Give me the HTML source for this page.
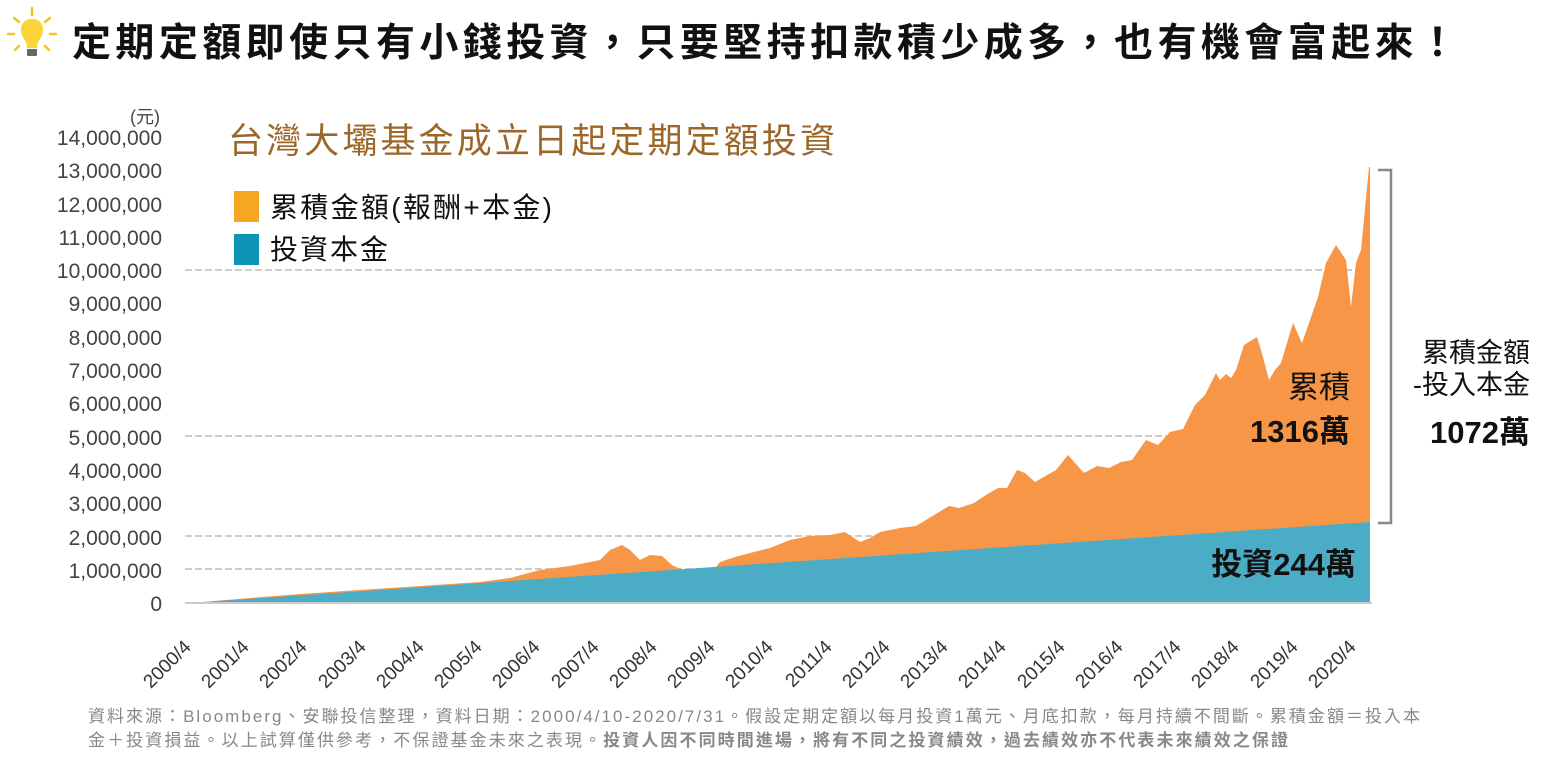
<!DOCTYPE html>
<html><head><meta charset="utf-8"><style>
body{margin:0;width:1543px;height:759px;background:#fff;overflow:hidden;font-family:"Liberation Sans","Noto Sans CJK TC",sans-serif}
</style></head><body>
<svg width="1543" height="759" viewBox="0 0 1543 759" xmlns="http://www.w3.org/2000/svg" font-family="Liberation Sans, Noto Sans CJK TC, sans-serif">
<g stroke="#F5C518" stroke-width="2.5" stroke-linecap="round">
<line x1="32" y1="8" x2="32" y2="15"/><line x1="14" y1="18" x2="19" y2="22"/><line x1="50" y1="18" x2="45" y2="22"/>
<line x1="8" y1="34" x2="14" y2="34"/><line x1="50" y1="34" x2="56" y2="34"/><line x1="15" y1="50" x2="19" y2="46"/><line x1="49" y1="50" x2="45" y2="46"/>
</g>
<path d="M32 19 C22 19 19 28 22 35 C24 40 27 42 27 48 L37 48 C37 42 40 40 42 35 C45 28 42 19 32 19Z" fill="#FBD437"/>
<rect x="27" y="49" width="10" height="7" rx="1" fill="#666"/>
<text x="72" y="56" font-size="39" font-weight="bold" fill="#111" letter-spacing="3" textLength="1388" lengthAdjust="spacing">定期定額即使只有小錢投資，只要堅持扣款積少成多，也有機會富起來！</text>

<text x="228" y="153" font-size="35" fill="#9B6628" textLength="607" lengthAdjust="spacing">台灣大壩基金成立日起定期定額投資</text>
<rect x="234" y="191" width="25" height="31" fill="#F5A623"/>
<text x="270" y="217" font-size="28" fill="#111" textLength="282" lengthAdjust="spacing">累積金額(報酬+本金)</text>
<rect x="234" y="234" width="25" height="31" fill="#0E94B4"/>
<text x="270" y="259" font-size="28" fill="#111" textLength="118" lengthAdjust="spacing">投資本金</text>

<g font-size="21" fill="#444" text-anchor="end">
<text x="160" y="123" font-size="18">(元)</text>
<text x="162" y="145">14,000,000</text><text x="162" y="178">13,000,000</text><text x="162" y="212">12,000,000</text>
<text x="162" y="245">11,000,000</text><text x="162" y="278">10,000,000</text><text x="162" y="311">9,000,000</text>
<text x="162" y="345">8,000,000</text><text x="162" y="378">7,000,000</text><text x="162" y="411">6,000,000</text>
<text x="162" y="445">5,000,000</text><text x="162" y="478">4,000,000</text><text x="162" y="511">3,000,000</text>
<text x="162" y="545">2,000,000</text><text x="162" y="578">1,000,000</text><text x="162" y="611">0</text>
</g>
<g stroke="#ccc" stroke-width="2" stroke-dasharray="7,3">
<line x1="185" y1="270" x2="1370" y2="270"/><line x1="185" y1="436" x2="1370" y2="436"/>
<line x1="185" y1="536" x2="1370" y2="536"/><line x1="185" y1="569" x2="1370" y2="569"/>
</g>
<path fill="#F79646" d="M190,603 L250,598 L300,594 L360,590 L420,586 L480,582 L510,578 L540,570 L570,566 L600,560 L610,550 L622,545 L630,550 L640,560 L650,555 L662,556 L672,565 L690,574 L700,577 L712,572 L720,562 L735,557 L750,553 L770,548 L790,540 L810,536 L830,535 L845,532 L860,542 L870,538 L880,532 L900,528 L916,526 L949,506 L959,508 L974,503 L986,495 L998,488 L1007,488 L1017,470 L1025,473 L1035,482 L1056,470 L1068,455 L1084,473 L1097,466 L1109,468 L1121,462 L1132,460 L1146,440 L1158,445 L1170,432 L1183,429 L1195,405 L1205,395 L1216,373 L1220,380 L1226,374 L1231,378 L1236,370 L1244,345 L1257,337 L1263,357 L1269,380 L1275,370 L1281,363 L1293,323 L1302,343 L1310,320 L1318,297 L1326,263 L1336,245 L1346,260 L1351,307 L1356,263 L1361,250 L1369,167 L1370,167 L1370,603 Z"/>
<path fill="#4BACC6" d="M190,603 L1370,522 L1370,603 Z"/>
<line x1="185" y1="603" x2="1372" y2="603" stroke="#ccc" stroke-width="2"/>
<g font-size="19" fill="#333" text-anchor="end">
<text transform="translate(192,648) rotate(-45)">2000/4</text><text transform="translate(250,648) rotate(-45)">2001/4</text>
<text transform="translate(308,648) rotate(-45)">2002/4</text><text transform="translate(367,648) rotate(-45)">2003/4</text>
<text transform="translate(425,648) rotate(-45)">2004/4</text><text transform="translate(483,648) rotate(-45)">2005/4</text>
<text transform="translate(541,648) rotate(-45)">2006/4</text><text transform="translate(600,648) rotate(-45)">2007/4</text>
<text transform="translate(658,648) rotate(-45)">2008/4</text><text transform="translate(716,648) rotate(-45)">2009/4</text>
<text transform="translate(774,648) rotate(-45)">2010/4</text><text transform="translate(833,648) rotate(-45)">2011/4</text>
<text transform="translate(891,648) rotate(-45)">2012/4</text><text transform="translate(949,648) rotate(-45)">2013/4</text>
<text transform="translate(1007,648) rotate(-45)">2014/4</text><text transform="translate(1066,648) rotate(-45)">2015/4</text>
<text transform="translate(1124,648) rotate(-45)">2016/4</text><text transform="translate(1182,648) rotate(-45)">2017/4</text>
<text transform="translate(1240,648) rotate(-45)">2018/4</text><text transform="translate(1299,648) rotate(-45)">2019/4</text>
<text transform="translate(1357,648) rotate(-45)">2020/4</text>
</g>
<text x="1350" y="398" font-size="31" fill="#111" text-anchor="end">累積</text>
<text x="1350" y="442" font-size="31" font-weight="bold" fill="#111" text-anchor="end">1316萬</text>
<text x="1356" y="575" font-size="31" font-weight="bold" fill="#111" text-anchor="end">投資244萬</text>
<path d="M1378,170 L1391,170 L1391,523 L1378,523" fill="none" stroke="#888" stroke-width="2.5"/>
<text x="1530" y="362" font-size="27" fill="#111" text-anchor="end">累積金額</text>
<text x="1530" y="394" font-size="27" fill="#111" text-anchor="end">-投入本金</text>
<text x="1530" y="443" font-size="31" font-weight="bold" fill="#111" text-anchor="end">1072萬</text>
<text x="88" y="722" font-size="17" fill="#888" textLength="1332" lengthAdjust="spacing">資料來源：Bloomberg、安聯投信整理，資料日期：2000/4/10-2020/7/31。假設定期定額以每月投資1萬元、月底扣款，每月持續不間斷。累積金額＝投入本</text>
<text x="88" y="746" font-size="17" fill="#888" textLength="1200" lengthAdjust="spacing">金＋投資損益。以上試算僅供參考，不保證基金未來之表現。<tspan font-weight="bold">投資人因不同時間進場，將有不同之投資績效，過去績效亦不代表未來績效之保證</tspan></text>
</svg>
</body></html>
